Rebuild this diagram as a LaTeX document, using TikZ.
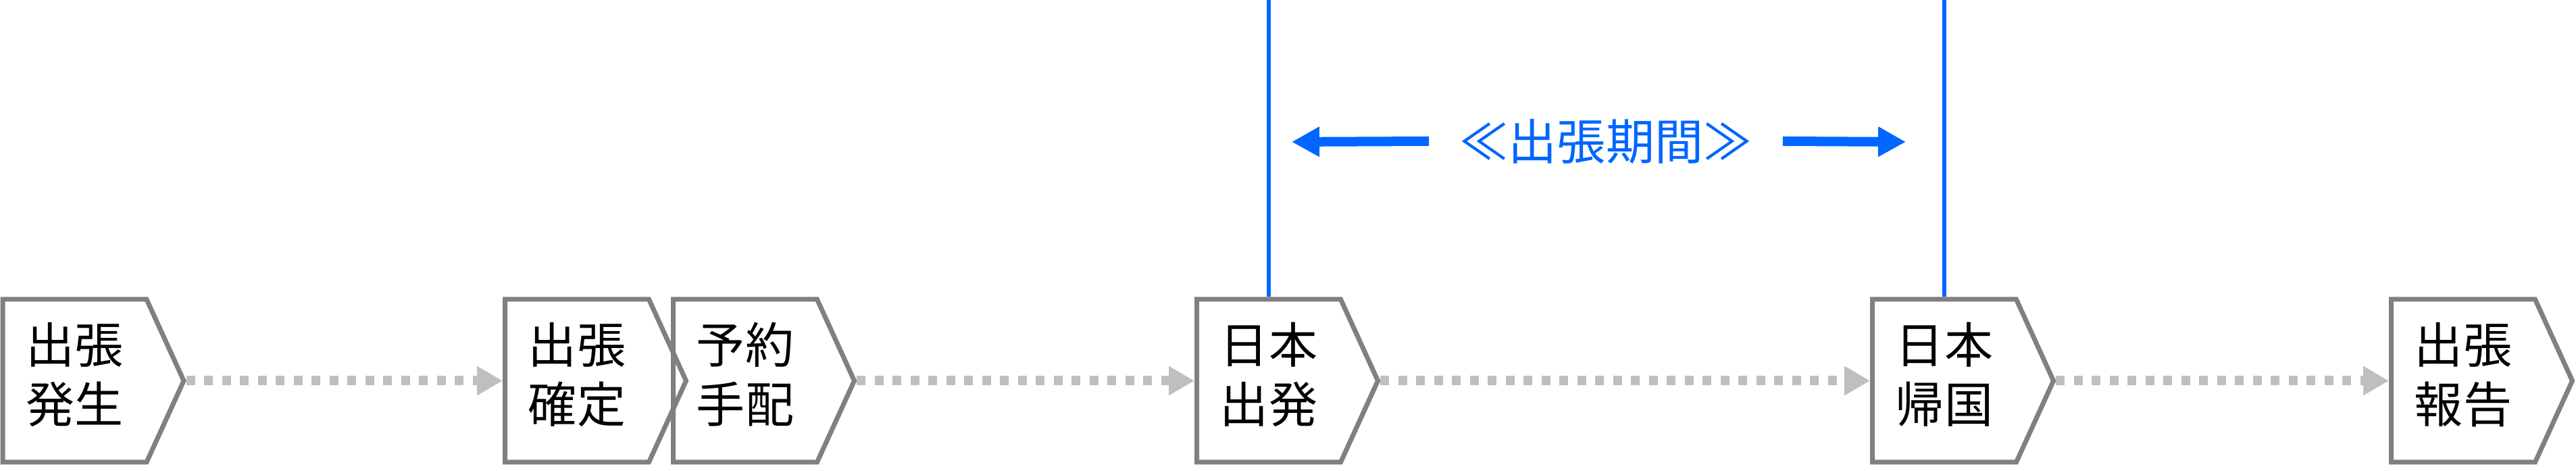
\documentclass[tikz,border=0pt]{standalone}
\usepackage{fontspec}
\setmainfont{Noto Sans CJK JP}
\usetikzlibrary{arrows.meta,positioning,shapes.symbols}
\definecolor{tripgray}{RGB}{128,128,128}
\definecolor{triplight}{RGB}{191,191,191}
\definecolor{tripblue}{RGB}{0,102,255}
\tikzset{
  sblk/.style={signal, signal to=east, signal from=nowhere, signal pointer angle=130.9, draw=tripgray, line width=2pt,
               inner sep=0pt, align=center, font=\fontsize{20.5pt}{25pt}\selectfont, text depth=2.45mm,
               minimum width=2.68cm, minimum height=2.41cm},
  sarr/.style={-{Triangle[length=3.8mm,width=4.1mm]}, triplight, line width=1.4mm, dash pattern=on 1.3mm off 1.35mm},
  barr/.style={-{Triangle[length=4.1mm,width=4.2mm]}, tripblue, line width=1.4mm},
  bline/.style={tripblue, line width=0.6mm},
}
\begin{document}
\begin{tikzpicture}
        \useasboundingbox (0,0) rectangle (38.13,6.97);
        \node[sblk](hassei) at (1.105,1.335){出張\\発生};
        \node[sblk](kakutei) at (8.54,1.335){出張\\確定};
        \node[sblk](tehai) at (11.03,1.335){予約\\手配};
        \node[sblk](shuppatsu) at (18.78,1.335){日本\\出発};
        \node[sblk](kikoku) at (28.78,1.335){日本\\帰国};
        \node[sblk](houkoku) at (36.46,1.335){出張\\報告};
        \node[text=tripblue,font=\fontsize{20.5pt}{25pt}\selectfont,inner xsep=4.5mm,inner ysep=0pt](kikan) at (23.77,4.88){≪出張期間≫};
        \coordinate (ltop) at (18.78,6.97);\coordinate (rtop) at (28.78,6.97);
        \coordinate (lend) at (19.12,4.87);\coordinate (rend) at (28.21,4.87);
        \draw[sarr](hassei.east)--(kakutei.west);\draw[sarr](tehai.east)--(shuppatsu.west);
        \draw[sarr](shuppatsu.east)--(kikoku.west);\draw[sarr](kikoku.east)--(houkoku.west);
        \draw[bline](shuppatsu.north)--(ltop);\draw[bline](kikoku.north)--(rtop);
        \draw[barr](kikan.west)--(lend);\draw[barr](kikan.east)--(rend);
    \end{tikzpicture}
\end{document}
